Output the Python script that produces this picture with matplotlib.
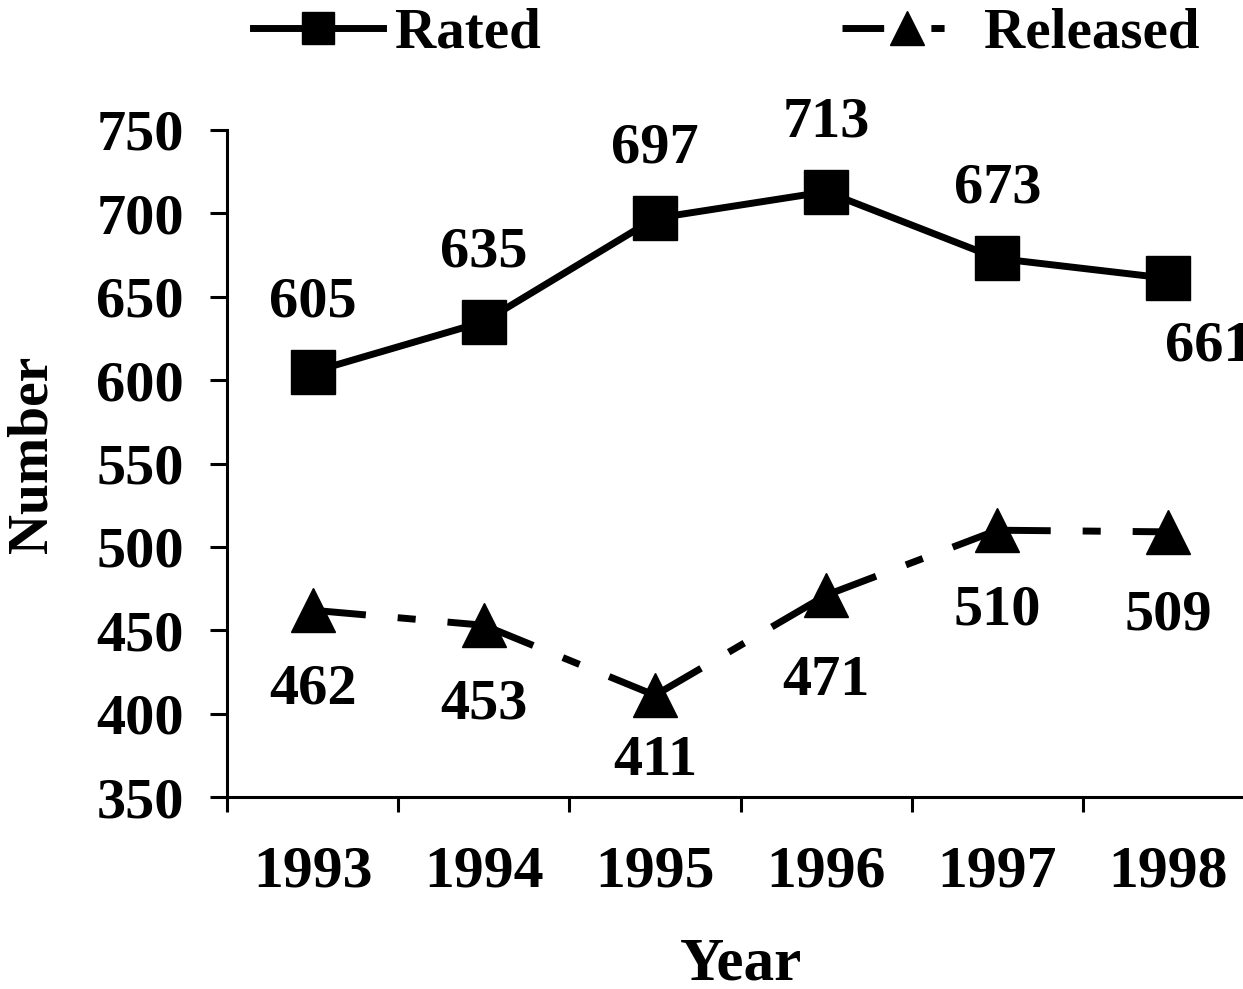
import numpy as np
import matplotlib
matplotlib.use('Agg')
from matplotlib import pyplot as plt
from matplotlib.lines import Line2D

# yearly counts
years = ['1993', '1994', '1995', '1996', '1997', '1998']
rated = [605, 635, 697, 713, 673, 661]
released = [462, 453, 411, 471, 510, 509]

# where each value label sits, offset from its point in points (dx, dy)
rated_off = [(0, 50), (0, 50), (0, 50), (0, 50), (0, 50), (29, -49)]
released_off = [(0, -57), (0, -57), (0, -47), (0, -62), (0, -58), (0, -60)]

plt.rcParams['font.family'] = 'Liberation Serif'
plt.rcParams['font.weight'] = 'bold'

W, H = 1243, 989
fig = plt.figure(figsize=(W / 100, H / 100), dpi=100)
ax = fig.add_axes([227 / W, 192 / H, 1027 / W, 667 / H])

x = np.arange(len(years))
lw = 5

# rated: solid line with squares
ax.plot(x, rated, color='k', lw=lw, marker='s', ms=31)

# released: long dash-dot, pattern restarts at every point
dash = (5.3, (13, 4.6, 2.6, 4.6))
for i in range(len(x) - 1):
    ax.plot(x[i:i + 2], released[i:i + 2], color='k', lw=lw,
            linestyle=dash, dash_capstyle='butt')
ax.plot(x, released, linestyle='none', marker='^', ms=32, color='k')

for xi, v, (dx, dy) in zip(x, rated, rated_off):
    ax.annotate(str(v), (xi, v), xytext=(dx, dy), textcoords='offset points',
                ha='center', va='center', fontsize=42, annotation_clip=False)
for xi, v, (dx, dy) in zip(x, released, released_off):
    ax.annotate(str(v), (xi, v), xytext=(dx, dy), textcoords='offset points',
                ha='center', va='center', fontsize=42, annotation_clip=False)

ax.set_xlim(-0.5, 5.5)
ax.set_ylim(350, 750)
ax.set_yticks(np.arange(350, 751, 50))
ax.set_xticks(np.arange(-0.5, 6, 1))
ax.set_xticklabels([])
ax.set_xticks(x, minor=True)
ax.set_xticklabels(years, minor=True)
ax.tick_params(axis='x', which='minor', length=0, pad=35, labelsize=43)
ax.tick_params(axis='x', which='major', length=11, width=2.2, direction='out')
ax.tick_params(axis='y', length=12, width=2.2, pad=19, labelsize=42)
for s in ['top', 'right']:
    ax.spines[s].set_visible(False)
for s in ['left', 'bottom']:
    ax.spines[s].set_linewidth(2.2)

fig.text(33 / W, 1 - 454 / H, 'Number', rotation=90, ha='center', va='center', fontsize=40)
fig.text(741 / W, 1 - 965 / H, 'Year', ha='center', va='center', fontsize=44)

h1 = Line2D([], [], color='k', lw=lw, marker='s', ms=23)
h2 = Line2D([], [], color='k', lw=lw, marker='^', ms=25,
            linestyle=(0, (6, 6.8, 1.9, 20)), dash_capstyle='butt')
fig.legend([h1, h2], ['Rated', 'Released'], loc='center left',
           bbox_to_anchor=(253 / W, 1 - 34 / H), ncol=2, frameon=False,
           fontsize=41, handlelength=2.28, handletextpad=0.21,
           columnspacing=5.3, borderpad=0, borderaxespad=0)

fig.savefig('out.png', dpi=100)
